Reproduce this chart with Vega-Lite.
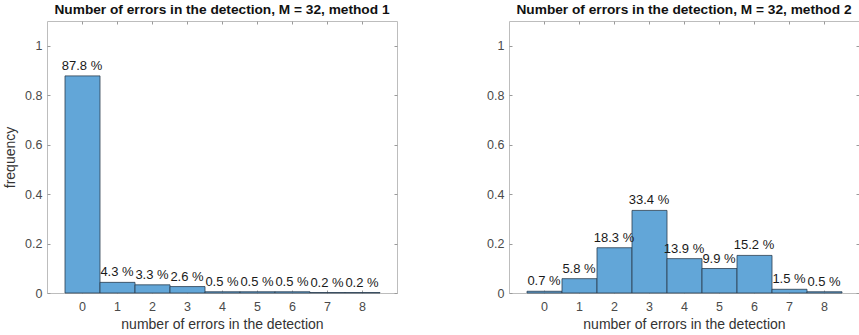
{
  "$schema": "https://vega.github.io/schema/vega-lite/v6.json",
  "padding": {"left": 3, "top": 2, "right": 0, "bottom": 0},
  "spacing": 88,
  "datasets": {
    "m1": [
      {"n": 0, "lo": -0.5, "hi": 0.5, "freq": 0.878, "label": "87.8 %"},
      {"n": 1, "lo": 0.5, "hi": 1.5, "freq": 0.043, "label": "4.3 %"},
      {"n": 2, "lo": 1.5, "hi": 2.5, "freq": 0.033, "label": "3.3 %"},
      {"n": 3, "lo": 2.5, "hi": 3.5, "freq": 0.026, "label": "2.6 %"},
      {"n": 4, "lo": 3.5, "hi": 4.5, "freq": 0.005, "label": "0.5 %"},
      {"n": 5, "lo": 4.5, "hi": 5.5, "freq": 0.005, "label": "0.5 %"},
      {"n": 6, "lo": 5.5, "hi": 6.5, "freq": 0.005, "label": "0.5 %"},
      {"n": 7, "lo": 6.5, "hi": 7.5, "freq": 0.002, "label": "0.2 %"},
      {"n": 8, "lo": 7.5, "hi": 8.5, "freq": 0.002, "label": "0.2 %"}
    ],
    "m2": [
      {"n": 0, "lo": -0.5, "hi": 0.5, "freq": 0.007, "label": "0.7 %"},
      {"n": 1, "lo": 0.5, "hi": 1.5, "freq": 0.058, "label": "5.8 %"},
      {"n": 2, "lo": 1.5, "hi": 2.5, "freq": 0.183, "label": "18.3 %"},
      {"n": 3, "lo": 2.5, "hi": 3.5, "freq": 0.334, "label": "33.4 %"},
      {"n": 4, "lo": 3.5, "hi": 4.5, "freq": 0.139, "label": "13.9 %"},
      {"n": 5, "lo": 4.5, "hi": 5.5, "freq": 0.099, "label": "9.9 %"},
      {"n": 6, "lo": 5.5, "hi": 6.5, "freq": 0.152, "label": "15.2 %"},
      {"n": 7, "lo": 6.5, "hi": 7.5, "freq": 0.015, "label": "1.5 %"},
      {"n": 8, "lo": 7.5, "hi": 8.5, "freq": 0.005, "label": "0.5 %"}
    ]
  },
  "config": {
    "view": {"stroke": "#bdbdbd", "strokeWidth": 1},
    "font": "Liberation Sans",
    "axis": {
      "domain": false, "grid": false, "tickColor": "#9a9a9a", "tickSize": -3,
      "labelFont": "Liberation Sans", "labelFontSize": 12.5, "labelColor": "#4a4a4a",
      "titleFont": "Liberation Sans", "titleFontSize": 14, "titleFontWeight": "normal", "titleColor": "#333333"
    },
    "title": {"font": "Liberation Sans", "fontSize": 13.7, "fontWeight": "bold", "color": "#111111", "offset": 4}
  },
  "hconcat": [
    {
      "title": "Number of errors in the detection, M = 32, method 1",
      "width": 350, "height": 272,
      "data": {"name": "m1"},
      "layer": [
        {
          "mark": {"type": "bar", "fill": "#62a6d8", "stroke": "#2b3d4f", "strokeWidth": 0.8, "binSpacing": 0},
          "encoding": {
            "x": {"field": "lo", "type": "quantitative", "bin": "binned", "scale": {"domain": [-1, 9], "nice": false},
                  "axis": {"orient": "bottom", "values": [0,1,2,3,4,5,6,7,8], "title": "number of errors in the detection", "labelPadding": 10, "titlePadding": 5}},
            "x2": {"field": "hi"},
            "y": {"field": "freq", "type": "quantitative", "scale": {"domain": [0, 1.1], "nice": false},
                  "axis": {"orient": "left", "values": [0,0.2,0.4,0.6,0.8,1], "format": "~g", "title": "frequency", "labelPadding": 8, "titlePadding": 7}}
          }
        },
        {
          "mark": {"type": "text", "baseline": "bottom", "dy": -3, "fontSize": 13, "color": "#1a1a1a", "font": "Liberation Sans"},
          "encoding": {
            "x": {"field": "n", "type": "quantitative", "axis": {"orient": "top", "values": [0,1,2,3,4,5,6,7,8], "labels": false, "title": null}},
            "y": {"field": "freq", "type": "quantitative", "axis": {"orient": "right", "values": [0,0.2,0.4,0.6,0.8,1], "labels": false, "title": null}},
            "text": {"field": "label"}
          }
        }
      ]
    },
    {
      "title": "Number of errors in the detection, M = 32, method 2",
      "width": 350, "height": 272,
      "data": {"name": "m2"},
      "layer": [
        {
          "mark": {"type": "bar", "fill": "#62a6d8", "stroke": "#2b3d4f", "strokeWidth": 0.8, "binSpacing": 0},
          "encoding": {
            "x": {"field": "lo", "type": "quantitative", "bin": "binned", "scale": {"domain": [-1, 9], "nice": false},
                  "axis": {"orient": "bottom", "values": [0,1,2,3,4,5,6,7,8], "title": "number of errors in the detection", "labelPadding": 10, "titlePadding": 5}},
            "x2": {"field": "hi"},
            "y": {"field": "freq", "type": "quantitative", "scale": {"domain": [0, 1.1], "nice": false},
                  "axis": {"orient": "left", "values": [0,0.2,0.4,0.6,0.8,1], "format": "~g", "title": null, "labelPadding": 8}}
          }
        },
        {
          "mark": {"type": "text", "baseline": "bottom", "dy": -3, "fontSize": 13, "color": "#1a1a1a", "font": "Liberation Sans"},
          "encoding": {
            "x": {"field": "n", "type": "quantitative", "axis": {"orient": "top", "values": [0,1,2,3,4,5,6,7,8], "labels": false, "title": null}},
            "y": {"field": "freq", "type": "quantitative", "axis": {"orient": "right", "values": [0,0.2,0.4,0.6,0.8,1], "labels": false, "title": null}},
            "text": {"field": "label"}
          }
        }
      ]
    }
  ]
}
